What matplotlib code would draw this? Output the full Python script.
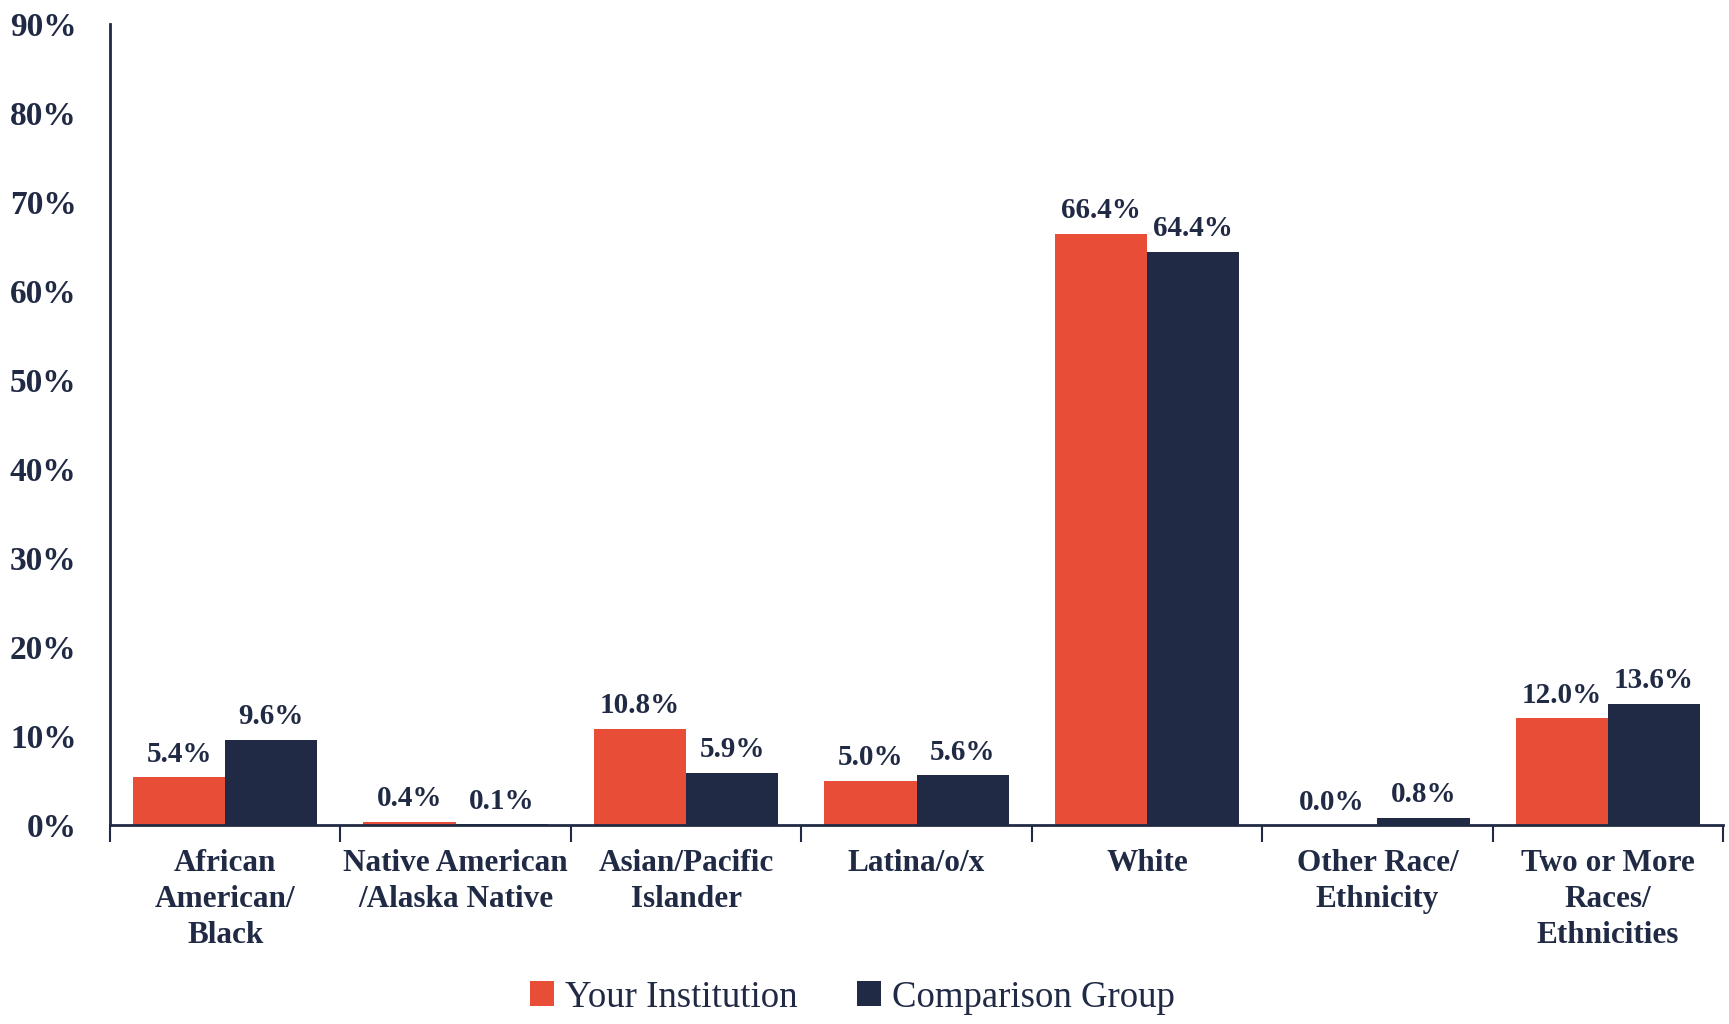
import numpy as np
import matplotlib
matplotlib.use("Agg")
import matplotlib.pyplot as plt
from matplotlib.ticker import FuncFormatter

categories = ["African\nAmerican/\nBlack", "Native American\n/Alaska Native",
              "Asian/Pacific\nIslander", "Latina/o/x", "White",
              "Other Race/\nEthnicity", "Two or More\nRaces/\nEthnicities"]
your_inst = [5.4, 0.4, 10.8, 5.0, 66.4, 0.0, 12.0]
comparison = [9.6, 0.1, 5.9, 5.6, 64.4, 0.8, 13.6]
series_names = ["Your Institution", "Comparison Group"]

RED = "#E84D38"
NAVY = "#212A45"

plt.rcParams['font.family'] = ['Liberation Serif', 'DejaVu Serif']

fig = plt.figure(figsize=(17.29, 10.24), dpi=100)
ax = fig.add_axes([0.0636, 0.194, 0.933, 0.783])

x = np.arange(len(categories))
w = 0.4
b1 = ax.bar(x - w / 2, your_inst, w, color=RED, label=series_names[0])
b2 = ax.bar(x + w / 2, comparison, w, color=NAVY, label=series_names[1])

for bars in (b1, b2):
    for r in bars:
        ax.annotate(f"{r.get_height():.1f}%", (r.get_x() + r.get_width() / 2, r.get_height()),
                    xytext=(0, 7), textcoords="offset points", ha="center", va="bottom",
                    fontsize=21, fontweight="bold", color=NAVY)

ax.set_xlim(-0.5, len(categories) - 0.5)
ax.set_ylim(0, 90)
ax.set_yticks(np.arange(0, 91, 10))
ax.yaxis.set_major_formatter(FuncFormatter(lambda v, p: f"{v:.0f}%"))
ax.tick_params(axis="y", length=0, pad=24, labelsize=24, labelcolor=NAVY)
for lab in ax.get_yticklabels():
    lab.set_fontweight("bold")

# category labels centred, tick marks at the boundaries
ax.set_xticks(np.arange(-0.5, len(categories), 1.0))
ax.set_xticklabels([])
ax.tick_params(axis="x", length=12, width=1.5, color=NAVY)
for i, c in enumerate(categories):
    ax.text(i, -2.6, c, ha="center", va="top", fontsize=22.5, fontweight="bold",
            color=NAVY, linespacing=1.32)

for s in ("top", "right"):
    ax.spines[s].set_visible(False)
for s in ("left", "bottom"):
    ax.spines[s].set_color(NAVY)
    ax.spines[s].set_linewidth(2)

leg = fig.legend(loc="center", bbox_to_anchor=(0.493, 0.026), ncol=2, frameon=False,
                 fontsize=26.5, handlelength=0.65, handleheight=0.65, handletextpad=0.3,
                 columnspacing=1.6)
for t in leg.get_texts():
    t.set_color(NAVY)

fig.savefig("out.png", dpi=100)
